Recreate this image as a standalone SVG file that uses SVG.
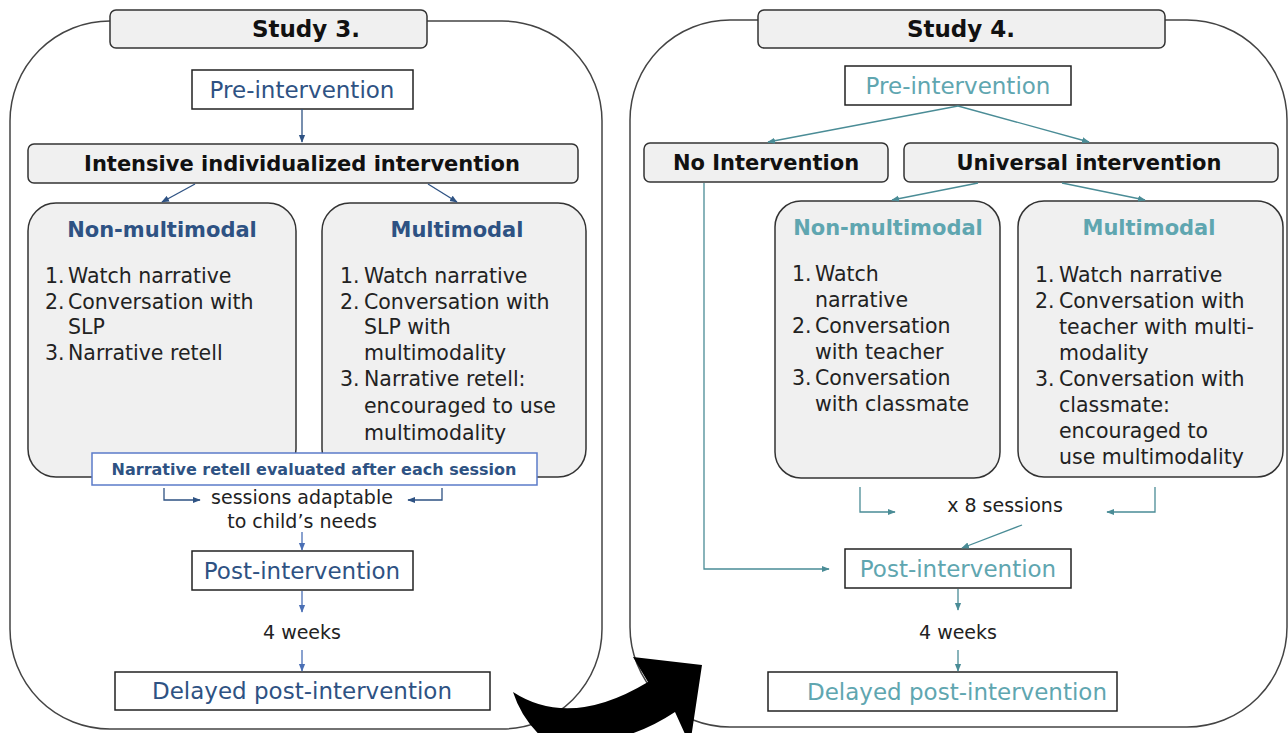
<svg xmlns="http://www.w3.org/2000/svg" width="1288" height="733" viewBox="0 0 1288 733">
<style>
text{font-family:"DejaVu Sans","Liberation Sans",sans-serif;}
.frame{fill:#fff;stroke:#444;stroke-width:1.5;}
.title{fill:#f0f0f0;stroke:#333;stroke-width:1.5;}
.plain{fill:#fff;stroke:#222;stroke-width:1.5;}
.grey{fill:#f0f0f0;stroke:#333;stroke-width:1.5;}
.tt{font-size:23px;font-weight:bold;fill:#111;text-anchor:middle;}
.hb{font-size:21px;font-weight:bold;fill:#111;text-anchor:middle;}
.blue{fill:#2E5283;}
.teal{fill:#5FA6B0;}
.stage{font-size:23px;text-anchor:middle;}
.sub{font-size:21px;font-weight:bold;text-anchor:middle;}
.li{font-size:20.5px;fill:#222;}
.note{font-size:19px;fill:#222;text-anchor:middle;}
.cb{fill:none;stroke:#2E5283;stroke-width:1.3;}
.cbl{fill:none;stroke:#4A6FB5;stroke-width:1.3;}
.ct{fill:none;stroke:#4A8C96;stroke-width:1.3;}
</style>
<defs>
<marker id="ab" viewBox="0 0 10 10" refX="9" refY="5" markerWidth="6" markerHeight="6" orient="auto"><path d="M0,1 L10,5 L0,9 z" fill="#2E5283"/></marker>
<marker id="abl" viewBox="0 0 10 10" refX="9" refY="5" markerWidth="6" markerHeight="6" orient="auto"><path d="M0,1 L10,5 L0,9 z" fill="#4A6FB5"/></marker>
<marker id="at" viewBox="0 0 10 10" refX="9" refY="5" markerWidth="6" markerHeight="6" orient="auto"><path d="M0,1 L10,5 L0,9 z" fill="#4A8C96"/></marker>
</defs>

<g id="frame3"><rect class="frame" x="10" y="21" width="592" height="708" rx="100" ry="100"/></g>
<g id="frame4"><rect class="frame" x="630" y="20" width="657" height="707" rx="100" ry="100"/></g>

<g id="study3-title"><rect class="title" x="110" y="10" width="317" height="38" rx="6"/><text class="tt" x="306" y="37">Study 3.</text></g>
<g id="study4-title"><rect class="title" x="758" y="10" width="407" height="38" rx="6"/><text class="tt" x="961" y="37">Study 4.</text></g>

<!-- Study 3 nodes -->
<g id="s3-pre"><rect class="plain" x="192" y="70" width="221" height="39"/><text class="stage blue" x="302" y="98">Pre-intervention</text></g>
<g id="s3-intensive"><rect class="grey" x="28" y="144" width="550" height="39" rx="6"/><text class="hb" x="302" y="171" font-size="20.3">Intensive individualized intervention</text></g>
<g id="s3-nonmm"><rect class="grey" x="28" y="203" width="268" height="274" rx="28"/>
<text class="sub blue" x="162" y="237">Non-multimodal</text>
<text class="li"><tspan x="45" y="283">1.</tspan><tspan x="68" y="283">Watch narrative</tspan><tspan x="45" y="309">2.</tspan><tspan x="68" y="309">Conversation with</tspan><tspan x="68" y="334">SLP</tspan><tspan x="45" y="360">3.</tspan><tspan x="68" y="360">Narrative retell</tspan></text></g>
<g id="s3-mm"><rect class="grey" x="322" y="203" width="264" height="274" rx="28"/>
<text class="sub blue" x="457" y="237">Multimodal</text>
<text class="li"><tspan x="340" y="283">1.</tspan><tspan x="364" y="283">Watch narrative</tspan><tspan x="340" y="309">2.</tspan><tspan x="364" y="309">Conversation with</tspan><tspan x="364" y="334">SLP with</tspan><tspan x="364" y="360">multimodality</tspan><tspan x="340" y="386">3.</tspan><tspan x="364" y="386">Narrative retell:</tspan><tspan x="364" y="413">encouraged to use</tspan><tspan x="364" y="440">multimodality</tspan></text></g>
<g id="s3-eval"><rect x="92" y="453" width="445" height="32" fill="#fff" stroke="#5B7BC9" stroke-width="1.5"/><text x="314" y="475" font-size="16" font-weight="bold" fill="#2E5283" text-anchor="middle">Narrative retell evaluated after each session</text></g>
<g id="s3-adapt"><text class="note" x="302" y="504">sessions adaptable</text><text class="note" x="302" y="528">to child’s needs</text></g>
<g id="s3-post"><rect class="plain" x="192" y="551" width="221" height="39"/><text class="stage blue" x="302" y="579">Post-intervention</text></g>
<g id="s3-4w"><text class="note" x="302" y="639">4 weeks</text></g>
<g id="s3-delayed"><rect class="plain" x="115" y="672" width="375" height="38"/><text class="stage blue" x="302" y="699">Delayed post-intervention</text></g>

<!-- Study 4 nodes -->
<g id="s4-pre"><rect class="plain" x="845" y="66" width="226" height="39"/><text class="stage teal" x="958" y="94">Pre-intervention</text></g>
<g id="s4-none"><rect class="grey" x="644" y="143" width="244" height="39" rx="6"/><text class="hb" x="766" y="170">No Intervention</text></g>
<g id="s4-universal"><rect class="grey" x="904" y="143" width="374" height="39" rx="6"/><text class="hb" x="1089" y="170" font-size="20">Universal intervention</text></g>
<g id="s4-nonmm"><rect class="grey" x="775" y="201" width="225" height="277" rx="26"/>
<text class="sub teal" x="888" y="235">Non-multimodal</text>
<text class="li"><tspan x="792" y="281">1.</tspan><tspan x="815" y="281">Watch</tspan><tspan x="815" y="307">narrative</tspan><tspan x="792" y="333">2.</tspan><tspan x="815" y="333">Conversation</tspan><tspan x="815" y="359">with teacher</tspan><tspan x="792" y="385">3.</tspan><tspan x="815" y="385">Conversation</tspan><tspan x="815" y="411">with classmate</tspan></text></g>
<g id="s4-mm"><rect class="grey" x="1018" y="201" width="265" height="276" rx="26"/>
<text class="sub teal" x="1149" y="235">Multimodal</text>
<text class="li"><tspan x="1035" y="282">1.</tspan><tspan x="1059" y="282">Watch narrative</tspan><tspan x="1035" y="308">2.</tspan><tspan x="1059" y="308">Conversation with</tspan><tspan x="1059" y="334">teacher with multi-</tspan><tspan x="1059" y="360">modality</tspan><tspan x="1035" y="386">3.</tspan><tspan x="1059" y="386">Conversation with</tspan><tspan x="1059" y="412">classmate:</tspan><tspan x="1059" y="438">encouraged to</tspan><tspan x="1059" y="464">use multimodality</tspan></text></g>
<g id="s4-sessions"><text class="note" x="1005" y="512">x 8 sessions</text></g>
<g id="s4-post"><rect class="plain" x="845" y="549" width="226" height="39"/><text class="stage teal" x="958" y="577">Post-intervention</text></g>
<g id="s4-4w"><text class="note" x="958" y="639">4 weeks</text></g>
<g id="s4-delayed"><rect class="plain" x="768" y="672" width="349" height="39"/><text class="stage teal" x="957" y="700">Delayed post-intervention</text></g>

<g id="connectors">
<path class="cb" d="M302,109 V142" marker-end="url(#ab)"/>
<path class="cb" d="M195,184 L162,202" marker-end="url(#ab)"/>
<path class="cb" d="M428,184 L457,202" marker-end="url(#ab)"/>
<path class="cb" d="M164,488 V500 H200" marker-end="url(#ab)"/>
<path class="cb" d="M442,488 V500 H408" marker-end="url(#ab)"/>
<path class="cbl" d="M302,532 V550" marker-end="url(#abl)"/>
<path class="cbl" d="M302,591 V612" marker-end="url(#abl)"/>
<path class="cbl" d="M302,650 V671" marker-end="url(#abl)"/>
<path class="ct" d="M958,106 L768,142" marker-end="url(#at)"/>
<path class="ct" d="M958,106 L1089,142" marker-end="url(#at)"/>
<path class="ct" d="M978,183 L892,200" marker-end="url(#at)"/>
<path class="ct" d="M1062,183 L1145,200" marker-end="url(#at)"/>
<path class="ct" d="M704,183 V569 H829" marker-end="url(#at)"/>
<path class="ct" d="M860,487 V512 H895" marker-end="url(#at)"/>
<path class="ct" d="M1155,487 V512 H1107" marker-end="url(#at)"/>
<path class="ct" d="M1022,525 L962,548" marker-end="url(#at)"/>
<path class="ct" d="M958,589 V610" marker-end="url(#at)"/>
<path class="ct" d="M958,650 V671" marker-end="url(#at)"/>
</g>

<g id="big-arrow">
<path d="M513,692 Q570,729 648,682 L633,657 L702,665 L690,745 L675,712 Q615,752 545,740 Q522,720 513,692 Z" fill="#000"/>
</g>
</svg>
